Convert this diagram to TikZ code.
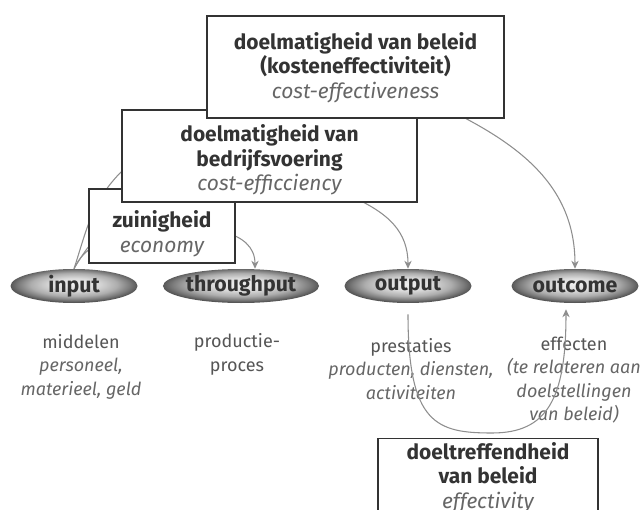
\documentclass[tikz,border=0pt]{standalone}
\usepackage{fontspec}
\setmainfont{Fira Sans}
\usetikzlibrary{arrows.meta,shapes.geometric,calc}

\definecolor{inkgray}{HTML}{333333}
\definecolor{softgray}{HTML}{666666}
\definecolor{notegray}{HTML}{555555}
\definecolor{flowgray}{HTML}{8E8E8E}
\newcommand{\sub}[1]{{\color{softgray}\itshape #1}}
\pgfdeclareradialshading{lens}{\pgfpoint{0bp}{3bp}}{color(0bp)=(black!6); color(9bp)=(black!14);
    color(17bp)=(black!32); color(22bp)=(black!52); color(25bp)=(black!66); color(50bp)=(black!66)}

\begin{document}
\begin{tikzpicture}[x=0.75pt, y=0.75pt, >={Stealth[length=6pt,width=5.5pt]},
    boxline/.style={draw=inkgray, line width=0.9pt, fill=white},
    boxtext/.style={align=center, text=inkgray, font=\fontsize{15.7}{18.4}\selectfont},
    stage/.style={ellipse, minimum width=95.25pt, minimum height=25.5pt, inner sep=0pt,
        shading=lens, text=inkgray, font=\fontsize{16}{16}\selectfont\bfseries},
    note/.style={align=center, text=notegray, font=\fontsize{13.5}{17.6}\selectfont},
    flow/.style={draw=flowgray, line width=0.8pt}]
    \useasboundingbox (0,0) rectangle (643,-510);
    \clip (0,0) rectangle (643,-510);

    % 1. de vier fasen
    \node[stage] (input) at (74,-286) {input};
    \node[stage] (throughput) at (241,-286) {throughput};
    \node[stage] (output) at (408,-286) {output};
    \node[stage] (outcome) at (575,-286) {outcome};

    % 2. toelichting onder de fasen
    \node[note] (means) at (81,-366.5) {middelen\\\sub{personeel,}\\\sub{materieel, geld}};
    \node[note] (process) at (237,-354.5) {productie-\\proces};
    \node[note] (perf) at (411,-369) {prestaties\\\sub{producten, diensten,}\\\sub{activiteiten}};
    \node[note] (effects) at (574,-380) {effecten\\\sub{(te relateren aan}\\\sub{doelstellingen}\\\sub{van beleid)}};

    % 3. lijnen vanaf input (achter de kaders)
    \coordinate (beleidmid) at (355.5,-67);
    \coordinate (bedrijfmid) at (269.5,-156);
    \coordinate (bedrijfin) at (122,-171);
    \coordinate (zuinigmid) at (162,-226);
    \draw[flow] (input.north) to[out=60, in=230] (beleidmid);
    \draw[flow] (input.north) to[out=72, in=225] (bedrijfin);
    \draw[flow] (input.north) to[out=65, in=200] (zuinigmid);

    % 4. lijnen naar de fasen
    \draw[flow, ->] (zuinigmid) to[out=0, in=90] ($(throughput.north)+(14,0)$);
    \draw[flow, ->] (bedrijfmid) to[out=-35, in=90] (output.north);
    \draw[flow, ->] (beleidmid) to[out=-25, in=90] (outcome.north);

    % 5. kaders, van onder naar boven
    \node[boxline, minimum width=109.5pt, minimum height=55.5pt] (zuinigbox) at (zuinigmid) {};
    \node[boxtext] (zuinig) at (162,-233.5) {\textbf{zuinigheid}\\\sub{economy}};
    \node[boxline, minimum width=221.25pt, minimum height=69pt] (bedrijfbox) at (bedrijfmid) {};
    \node[boxtext] (bedrijf) at (269.5,-160) {\textbf{doelmatigheid van}\\\textbf{bedrijfsvoering}\\\sub{cost-efficciency}};
    \node[boxline, minimum width=222.75pt, minimum height=76.5pt] (beleidbox) at (beleidmid) {};
    \node[boxtext] (beleid) at (355.5,-67.5) {\textbf{doelmatigheid van beleid}\\\textbf{(kosteneffectiviteit)}\\\sub{cost-effectiveness}};

    % 6. doeltreffendheid
    \coordinate (dip) at (492,-433);
    \draw[flow, ->] ($(output.south)+(0,-11)$) .. controls +(0,-110) and +(-55,0) .. (dip)
        .. controls +(55,0) and +(0,-90) .. ($(outcome.south)+(-9,-6)$);
    \node[boxline, minimum width=165pt, minimum height=75pt, anchor=north] (doelbox) at (488,-438) {};
    \node[boxtext] (doel) at (488,-477.5) {\textbf{doeltreffendheid}\\\textbf{van beleid}\\\sub{effectivity}};
\end{tikzpicture}
\end{document}
